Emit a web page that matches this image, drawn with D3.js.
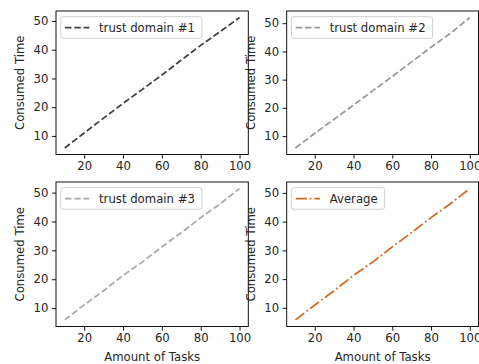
<!DOCTYPE html>
<html><head><meta charset="utf-8">
<script src="https://cdn.jsdelivr.net/npm/d3@7"></script>
<style>body{margin:0;background:#fff}svg{display:block}</style>
</head><body>
<svg id="c" width="479" height="364"></svg>
<script>
const tasks = [10,20,30,40,50,60,70,80,90,100];
const domain1 = [5.8,11.0,16.2,21.3,26.2,31.2,36.4,41.5,46.3,51.2];
const domain2 = [5.8,11.0,16.0,21.0,26.1,31.1,36.3,41.5,46.4,52.0];
const domain3 = [5.9,11.1,16.0,21.3,26.0,31.2,36.1,41.3,46.1,51.4];
const average = [5.8,11.0,16.0,21.3,26.0,31.2,36.2,41.4,46.2,51.5];
const xTicks = [20,40,60,80,100];
const yTicks = [10,20,30,40,50];

const panels = [
  {name:"trust domain #1", vals:domain1, color:"#404040", dash:"6.5,2.8", x0:56, x1:248.3, y0:11, y1:154.5, xlabel:false},
  {name:"trust domain #2", vals:domain2, color:"#999999", dash:"6.5,2.8", x0:286.7, x1:478.5, y0:11, y1:154.5, xlabel:false},
  {name:"trust domain #3", vals:domain3, color:"#aaaaaa", dash:"6.5,2.8", x0:56, x1:248.3, y0:182, y1:326.5, xlabel:true},
  {name:"Average", vals:average, color:"#d2691e", dash:"11.2,2.8,1.75,2.8", x0:286.7, x1:478.5, y0:182, y1:326.5, xlabel:true}
];

const svg = d3.select("#c");
const font = "DejaVu Sans";
const fs = 11.7;

panels.forEach(p => {
  const allY = d3.extent(p.vals);
  const xr = d3.extent(tasks), xm = (xr[1]-xr[0])*0.05;
  const ym = (allY[1]-allY[0])*0.05;
  const x = d3.scaleLinear().domain([xr[0]-xm, xr[1]+xm]).range([p.x0, p.x1]);
  const y = d3.scaleLinear().domain([allY[0]-ym, allY[1]+ym]).range([p.y1, p.y0]);
  const g = svg.append("g");

  const line = d3.line().x((d,i)=>x(tasks[i])).y(d=>y(d));
  g.append("path").datum(p.vals).attr("d", line)
    .attr("fill","none").attr("stroke",p.color).attr("stroke-width",1.75)
    .attr("stroke-dasharray",p.dash);

  const xa = g.append("g").attr("transform",`translate(0,${p.y1})`)
    .call(d3.axisBottom(x).tickValues(xTicks).tickSize(4.1).tickPadding(3.5).tickFormat(d3.format("d")));
  const ya = g.append("g").attr("transform",`translate(${p.x0},0)`)
    .call(d3.axisLeft(y).tickValues(yTicks).tickSize(4.1).tickPadding(3.5).tickFormat(d3.format("d")));
  [xa,ya].forEach(a=>{
    a.select(".domain").remove();
    a.selectAll("line").attr("stroke","#000").attr("stroke-width",0.93);
    a.selectAll("text").attr("font-family",font).attr("font-size",fs).attr("fill","#262626");
  });

  g.append("rect").attr("x",p.x0).attr("y",p.y0).attr("width",p.x1-p.x0).attr("height",p.y1-p.y0)
    .attr("fill","none").attr("stroke","#000").attr("stroke-width",0.93);

  g.append("text").attr("transform",`translate(${p.x0-36},${(p.y0+p.y1)/2}) rotate(-90)`)
    .attr("text-anchor","middle").attr("dominant-baseline","central")
    .attr("font-family",font).attr("font-size",fs).attr("fill","#262626").text("Consumed Time");
  if (p.xlabel) {
    g.append("text").attr("x",(p.x0+p.x1)/2).attr("y",p.y1+30).attr("text-anchor","middle")
      .attr("dominant-baseline","central")
      .attr("font-family",font).attr("font-size",fs).attr("fill","#262626").text("Amount of Tasks");
  }

  // legend
  const lx = p.x0+4.7, ly = p.y0+5.7;
  const lg = g.append("g");
  const t = lg.append("text").attr("x",lx+38.3).attr("y",ly+11).attr("dominant-baseline","central")
    .attr("font-family",font).attr("font-size",fs).attr("fill","#262626").text(p.name);
  const tw = t.node().getComputedTextLength();
  lg.insert("rect","text").attr("x",lx).attr("y",ly).attr("width",38.3+tw+7).attr("height",21.6)
    .attr("rx",2.5).attr("fill","#fff").attr("fill-opacity",0.8).attr("stroke","#cccccc").attr("stroke-width",0.93);
  lg.append("line").attr("x1",lx+4.3).attr("x2",lx+28.6).attr("y1",ly+11).attr("y2",ly+11)
    .attr("stroke",p.color).attr("stroke-width",1.75).attr("stroke-dasharray",p.dash);
});
</script>
</body></html>
